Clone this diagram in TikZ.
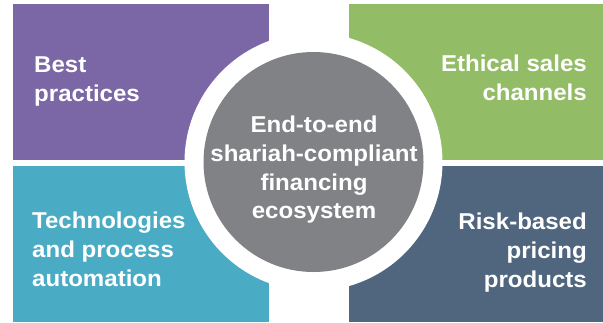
\documentclass[tikz,border=0pt]{standalone}
\usepackage{fontspec}
\setmainfont{Liberation Sans}[FakeStretch=1.05]
\usetikzlibrary{positioning}
\definecolor{bestpurple}{HTML}{7B66A6}
\definecolor{salesgreen}{HTML}{92BC65}
\definecolor{techteal}{HTML}{49ABC4}
\definecolor{riskslate}{HTML}{4F667E}
\definecolor{hubgray}{HTML}{808285}
\tikzset{quadtext/.style={text=white,inner sep=0pt,font=\fontsize{23}{28.8}\selectfont\bfseries}}

\begin{document}
\begin{tikzpicture}[line cap=round,line join=round,x=1bp,y=-1bp]
\useasboundingbox (0,0) rectangle (603,322);
% the four quadrants
\fill [bestpurple] (13,4) rectangle (269,160);
\fill [salesgreen] (349,4) rectangle (603,160);
\fill [techteal] (13,166) rectangle (269,322);
\fill [riskslate] (349,166) rectangle (603,322);
% hub with white ring
\fill [white] (313.5,162) circle (129);
\fill [hubgray] (313.5,162) circle (110);
\node [quadtext,align=left,anchor=north west] (best) at (34,57) {Best\\practices};
\node [quadtext,align=right,anchor=north east] (sales) at (587,55) {Ethical sales\\channels};
\node [quadtext,align=left,anchor=north west] (tech) at (32,212) {Technologies\\and process\\automation};
\node [quadtext,align=right,anchor=north east] (risk) at (587,213) {Risk-based\\pricing\\products};
\node [quadtext,align=center,anchor=north] (hub) at (314,116) {End-to-end\\shariah-compliant\\financing\\ecosystem};
\end{tikzpicture}
\end{document}
